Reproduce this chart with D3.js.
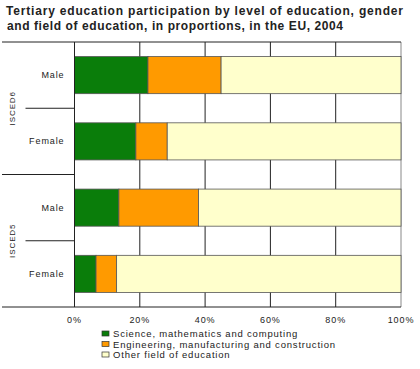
<!DOCTYPE html>
<meta charset="utf-8">
<script src="https://d3js.org/d3.v7.min.js"></script>
<style>
body { margin: 0; background: #fff; }
text { font-family: "Liberation Sans", Arial, sans-serif; fill: #222; }
.title { font-weight: bold; font-size: 12px; }
.lbl { font-size: 9px; letter-spacing: 0.9px; }
.leg { font-size: 9.5px; letter-spacing: 0.8px; }
</style>
<body>
<script>

// data (percent of students)
var levels = ["ISCED6", "ISCED5"];
var genders = ["Male", "Female"];
var science = [22.5, 18.8, 13.6, 6.6];
var engineering = [22.4, 9.6, 24.4, 6.3];
var other = [55.1, 71.6, 62.0, 87.1];
var fields = ["Science, mathematics and computing", "Engineering, manufacturing and construction", "Other field of education"];
var colors = ["#0a7d0a", "#ff9a00", "#ffffcc"];
var xTicks = [0, 20, 40, 60, 80, 100];

var W = 420, H = 369;
var margin = {top: 42, right: 19, bottom: 62, left: 74.5};
var width = W - margin.left - margin.right;
var height = H - margin.top - margin.bottom;

var svg = d3.select("body").append("svg")
  .attr("width", W)
  .attr("height", H);

svg.append("text").attr("class", "title").attr("x", 6).attr("y", 15)
  .attr("textLength", 397).attr("lengthAdjust", "spacing")
  .text("Tertiary education participation by level of education, gender");
svg.append("text").attr("class", "title").attr("x", 7).attr("y", 30)
  .attr("textLength", 336).attr("lengthAdjust", "spacing")
  .text("and field of education, in proportions, in the EU, 2004");

var g = svg.append("g")
  .attr("transform", "translate(" + margin.left + "," + margin.top + ")");

// rows: one per level/gender pair
var rows = [];
levels.forEach(function(l) {
  genders.forEach(function(s) { rows.push(l + "|" + s); });
});

var data = rows.map(function(r, i) {
  return {row: r, vals: [science[i], engineering[i], other[i]]};
});

var xScale = d3.scaleLinear().domain([0, 100]).range([0, width]);
var yScale = d3.scaleBand().domain(rows).range([0, height])
  .paddingInner(0.44).paddingOuter(0.22);

// vertical gridlines
g.selectAll(".grid")
  .data(xTicks)
  .enter().append("line")
  .attr("x1", function(d) { return xScale(d); })
  .attr("x2", function(d) { return xScale(d); })
  .attr("y1", 0).attr("y2", height)
  .attr("stroke", function(d) { return d == 100 ? "#888" : "#222"; })
  .attr("stroke-width", 1);

// x labels
g.selectAll(".xl")
  .data(xTicks)
  .enter().append("text")
  .attr("class", "lbl")
  .attr("x", function(d) { return xScale(d); })
  .attr("y", height + 16)
  .attr("text-anchor", "middle")
  .text(function(d) { return d + "%"; });

// stacked bars
var series = d3.stack().keys([0, 1, 2]).value(function(d, k) { return d.vals[k]; })(data);

g.selectAll(".series")
  .data(series)
  .enter().append("g")
  .attr("fill", function(d, i) { return colors[i]; })
  .selectAll("rect")
  .data(function(d) { return d; })
  .enter().append("rect")
  .attr("x", function(d) { return xScale(d[0]); })
  .attr("width", function(d) { return xScale(d[1]) - xScale(d[0]); })
  .attr("y", function(d) { return yScale(d.data.row); })
  .attr("height", yScale.bandwidth())
  .attr("stroke", "#555")
  .attr("stroke-width", 0.8);

// frame top / bottom
g.append("line").attr("x1", -margin.left + 2).attr("x2", width).attr("y1", 0).attr("y2", 0).attr("stroke", "#222");
g.append("line").attr("x1", -margin.left + 2).attr("x2", width).attr("y1", height).attr("y2", height).attr("stroke", "#222");
g.append("line").attr("x1", 0).attr("x2", 0).attr("y1", 0).attr("y2", height).attr("stroke", "#222");

// row labels
g.selectAll(".rl")
  .data(rows)
  .enter().append("text")
  .attr("class", "lbl")
  .attr("x", -10)
  .attr("y", function(d) { return yScale(d) + yScale.bandwidth() / 2 + 3; })
  .attr("text-anchor", "end")
  .text(function(d) { return d.split("|")[1]; });

// group dividers and labels
var step = yScale.step();
levels.forEach(function(l, i) {
  var y0 = i * 2 * step;
  g.append("line")
    .attr("x1", -49).attr("x2", 0)
    .attr("y1", y0 + step).attr("y2", y0 + step)
    .attr("stroke", "#222");
  if (i > 0) {
    g.append("line")
      .attr("x1", -margin.left + 2).attr("x2", 0)
      .attr("y1", y0).attr("y2", y0)
      .attr("stroke", "#222");
  }
  g.append("text")
    .attr("class", "lbl")
    .style("font-size", "8px")
    .attr("text-anchor", "middle")
    .attr("transform", "translate(" + (-60) + "," + (y0 + step) + ") rotate(-90)")
    .text(l);
});

// legend
var legend = svg.append("g").attr("transform", "translate(102,331)");
fields.forEach(function(f, i) {
  legend.append("rect")
    .attr("x", 0).attr("y", i * 10.5)
    .attr("width", 7).attr("height", 5)
    .attr("fill", colors[i])
    .attr("stroke", "#333").attr("stroke-width", 0.7);
  legend.append("text")
    .attr("class", "leg")
    .attr("x", 11).attr("y", i * 10.5 + 6)
    .text(f);
});

</script>
</body>
